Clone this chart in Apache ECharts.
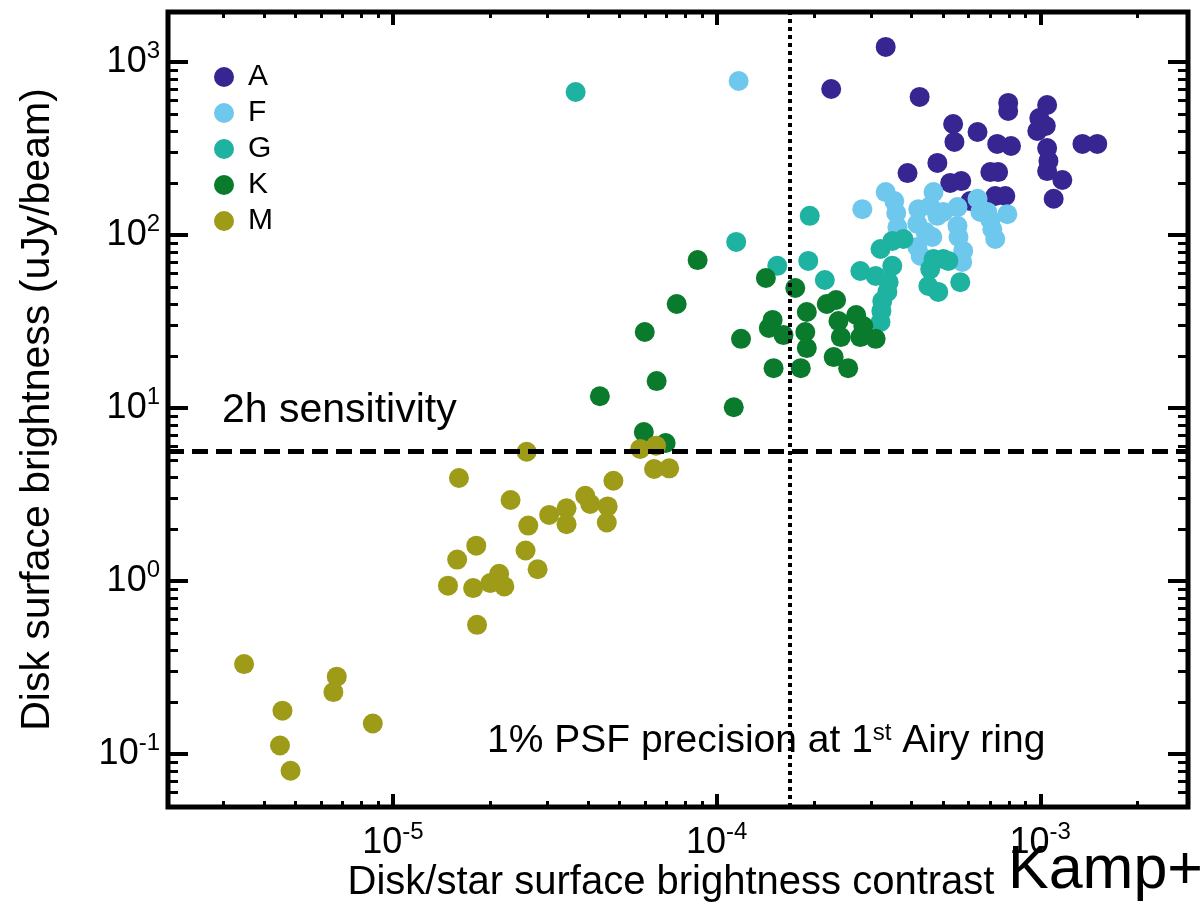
<!DOCTYPE html>
<html>
<head>
<meta charset="utf-8">
<title>Disk surface brightness vs contrast</title>
<script src="https://cdn.jsdelivr.net/npm/echarts@6/dist/echarts.min.js"></script>
<style>
  html, body { margin: 0; padding: 0; background: #fff; }
  #chart { width: 1203px; height: 915px; }
</style>
</head>
<body>
<div id="chart"></div>
<script>
// disk/star contrast (x) and disk surface brightness in uJy/beam (y), by stellar type
const aContrast = [3.33e-4, 2.26e-4, 4.24e-4, 7.96e-4, 7.96e-4, 1.05e-3, 9.93e-4, 1.04e-3, 9.79e-4, 5.38e-4, 5.43e-4, 6.40e-4, 7.36e-4, 8.12e-4, 1.05e-3, 1.06e-3, 1.05e-3, 1.17e-3, 1.35e-3, 1.50e-3, 4.81e-4, 3.89e-4, 5.27e-4, 5.70e-4, 7.01e-4, 7.41e-4, 7.26e-4, 7.80e-4, 6.08e-4, 1.10e-3]
const aBright = [1222, 698, 628, 580, 521, 564, 474, 427, 399, 438, 345, 394, 336, 327, 318, 268, 234, 208, 336, 336, 261, 228, 200, 205, 231, 231, 168, 168, 157, 162]

const fContrast = [1.17e-4, 2.82e-4, 3.33e-4, 3.54e-4, 3.59e-4, 3.62e-4, 4.20e-4, 4.17e-4, 4.42e-4, 4.68e-4, 4.57e-4, 4.81e-4, 5.02e-4, 4.17e-4, 4.27e-4, 5.55e-4, 5.55e-4, 5.59e-4, 5.78e-4, 5.74e-4, 6.40e-4, 6.53e-4, 6.86e-4, 7.01e-4, 7.91e-4, 7.11e-4, 7.26e-4, 4.64e-4]
const fBright = [776, 141, 177, 157, 134, 111, 141, 116, 104, 177, 147, 129, 136, 85.3, 75.7, 145, 113, 97.3, 80.9, 69.8, 162, 136, 136, 122, 132, 108, 94.8, 97.3]

const gContrast = [3.67e-5, 1.15e-4, 1.54e-4, 1.94e-4, 1.92e-4, 2.16e-4, 2.78e-4, 3.10e-4, 3.21e-4, 3.49e-4, 3.78e-4, 3.49e-4, 3.40e-4, 3.37e-4, 3.25e-4, 3.23e-4, 3.21e-4, 4.68e-4, 5.02e-4, 4.57e-4, 4.51e-4, 4.84e-4, 5.66e-4, 5.20e-4]
const gBright = [671, 91.2, 66.3, 129, 70.8, 54.9, 61.9, 57.9, 83.0, 92.3, 94.8, 66.3, 53.4, 46.9, 41.5, 36.4, 31.4, 72.6, 72.6, 63.5, 50.7, 46.9, 53.4, 70.8]

const kContrast = [4.36e-5, 8.74e-5, 7.53e-5, 6.00e-5, 6.53e-5, 5.96e-5, 6.96e-5, 1.13e-4, 1.19e-4, 1.42e-4, 1.49e-4, 1.45e-4, 1.61e-4, 1.50e-4, 1.75e-4, 1.90e-4, 1.88e-4, 1.90e-4, 1.82e-4, 2.19e-4, 2.34e-4, 2.38e-4, 2.42e-4, 2.30e-4, 2.55e-4, 2.70e-4, 2.84e-4, 2.78e-4, 3.10e-4]
const kBright = [11.7, 71.6, 39.9, 27.5, 14.3, 7.26, 6.28, 10.1, 25.1, 56.4, 32.3, 29.0, 26.4, 17.0, 49.4, 35.9, 27.5, 22.2, 17.0, 39.9, 42.1, 31.8, 25.7, 19.7, 17.0, 34.5, 29.8, 25.7, 25.1]

const mContrast = [3.47e-6, 4.56e-6, 4.48e-6, 4.83e-6, 6.71e-6, 6.55e-6, 8.67e-6, 1.60e-5, 2.59e-5, 2.31e-5, 1.81e-5, 1.58e-5, 1.48e-5, 1.77e-5, 1.82e-5, 2.00e-5, 2.13e-5, 2.21e-5, 2.57e-5, 2.80e-5, 2.62e-5, 3.04e-5, 3.44e-5, 3.44e-5, 3.93e-5, 4.07e-5, 4.61e-5, 4.58e-5, 4.80e-5, 5.81e-5, 6.50e-5, 6.41e-5, 7.14e-5]
const mBright = [0.331, 0.178, 0.112, 0.080, 0.280, 0.228, 0.150, 3.94, 5.59, 2.94, 1.60, 1.33, 0.94, 0.91, 0.558, 0.973, 1.10, 0.931, 1.50, 1.17, 2.09, 2.41, 2.63, 2.13, 3.11, 2.79, 2.70, 2.18, 3.80, 5.80, 6.06, 4.44, 4.48]

// reference lines
const psfContrast = 1.68e-4 // 1% PSF precision at 1st Airy ring
const sensitivity = 5.6 // 2h sensitivity, uJy/beam

// axis ranges and labelled decades (powers of ten)
const xMin = 2.02e-6
const xMax = 2.86e-3
const yMin = 0.0494
const yMax = 1945
const xDecades = [-5, -4, -3]
const yDecades = [-1, 0, 1, 2, 3]

const font = 'Liberation Sans, Arial, Helvetica, sans-serif'
const classes = [
  { name: 'A', color: '#372691', x: aContrast, y: aBright },
  { name: 'F', color: '#6ec8ee', x: fContrast, y: fBright },
  { name: 'G', color: '#1eb2a0', x: gContrast, y: gBright },
  { name: 'K', color: '#0a7a2d', x: kContrast, y: kBright },
  { name: 'M', color: '#9e9b19', x: mContrast, y: mBright }
]

const chart = echarts.init(document.getElementById('chart'), null, { renderer: 'canvas' })

const xLo = Math.log10(xMin)
const xHi = Math.log10(xMax)
const yLo = Math.log10(yMin)
const yHi = Math.log10(yMax)

// 2..9 x 10^n positions, in log space, inside the range
const minorTicks = (lo, hi) => {
  const out = []
  for (let p = Math.floor(lo); p <= Math.ceil(hi); p++) {
    for (let k = 2; k <= 9; k++) {
      const v = p + Math.log10(k)
      if (v > lo && v < hi) out.push(v)
    }
  }
  return out
}

const powerRich = {
  b: { fontSize: 36, lineHeight: 46, fontFamily: font, color: '#000' },
  s: { fontSize: 24, lineHeight: 24, fontFamily: font, color: '#000', verticalAlign: 'top' }
}
const powerLabel = (v) => `{b|10}{s|${Math.round(v)}}`

// value axes in log10 space only carry the ticks and labels
const tickAxis = (position, lo, hi, values, length, width) => ({
  type: 'value',
  position,
  min: lo,
  max: hi,
  silent: true,
  axisLine: { show: false, onZero: false },
  splitLine: { show: false },
  axisLabel: { show: false },
  axisTick: {
    show: true,
    inside: true,
    length,
    customValues: values,
    lineStyle: { color: '#000', width }
  }
})

const xMinor = minorTicks(xLo, xHi)
const yMinor = minorTicks(yLo, yHi)

const xLabelled = Object.assign(tickAxis('bottom', xLo, xHi, xDecades, 13, 4), {
  name: 'Disk/star surface brightness contrast',
  nameLocation: 'middle',
  nameGap: 56,
  nameMoveOverlap: false,
  nameTextStyle: { fontSize: 40, lineHeight: 40, fontFamily: font, color: '#000', padding: [0, 14, 0, 0] },
  axisLabel: { show: true, margin: 13, customValues: xDecades, formatter: powerLabel, rich: powerRich }
})
const yLabelled = Object.assign(tickAxis('left', yLo, yHi, yDecades, 20, 4), {
  name: 'Disk surface brightness (uJy/beam)',
  nameLocation: 'middle',
  nameGap: 110,
  nameMoveOverlap: false,
  nameTextStyle: { fontSize: 41, lineHeight: 40, fontFamily: font, color: '#000' },
  axisLabel: { show: true, margin: 8, customValues: yDecades, formatter: powerLabel, rich: powerRich }
})

const option = {
  animation: false,
  backgroundColor: '#fff',
  textStyle: { fontFamily: font },
  grid: {
    left: 168,
    top: 12,
    right: 15,
    bottom: 108,
    show: true,
    borderColor: '#000',
    borderWidth: 5,
    backgroundColor: 'transparent',
    outerBoundsMode: 'none',
    containLabel: false
  },
  legend: {
    data: classes.map((c) => c.name),
    orient: 'vertical',
    left: 209,
    top: 57,
    icon: 'circle',
    itemWidth: 38,
    itemHeight: 20,
    itemGap: 6,
    selectedMode: false,
    textStyle: { fontSize: 30, lineHeight: 30, fontFamily: font, color: '#000' }
  },
  xAxis: [
    { type: 'log', logBase: 10, min: xMin, max: xMax, show: false },
    xLabelled,
    tickAxis('bottom', xLo, xHi, xMinor, 6, 3),
    tickAxis('top', xLo, xHi, xDecades, 13, 4),
    tickAxis('top', xLo, xHi, xMinor, 6, 3)
  ],
  yAxis: [
    { type: 'log', logBase: 10, min: yMin, max: yMax, show: false },
    yLabelled,
    tickAxis('left', yLo, yHi, yMinor, 10, 3),
    tickAxis('right', yLo, yHi, yDecades, 20, 4),
    tickAxis('right', yLo, yHi, yMinor, 10, 3)
  ],
  graphic: [
    {
      type: 'text',
      x: 222,
      y: 411,
      silent: true,
      style: { text: '2h sensitivity', fontSize: 41, fontFamily: font, fill: '#000', verticalAlign: 'middle' }
    },
    {
      type: 'text',
      x: 487,
      y: 741,
      silent: true,
      style: {
        text: '{a|1% PSF precision at 1}{s|st}{a| Airy ring}',
        verticalAlign: 'middle',
        rich: {
          a: { fontSize: 39, lineHeight: 40, fontFamily: font, fill: '#000' },
          s: { fontSize: 24, lineHeight: 24, fontFamily: font, fill: '#000', verticalAlign: 'top' }
        }
      }
    },
    {
      type: 'text',
      x: 1008,
      y: 871,
      silent: true,
      style: { text: 'Kamp+2020', fontSize: 61, fontFamily: font, fill: '#000', verticalAlign: 'middle' }
    }
  ],
  series: classes.map((c, idx) => {
    const s = {
      type: 'scatter',
      name: c.name,
      xAxisIndex: 0,
      yAxisIndex: 0,
      symbol: 'circle',
      symbolSize: 20,
      itemStyle: { color: c.color, opacity: 1 },
      emphasis: { disabled: true },
      data: c.x.map((v, i) => [v, c.y[i]])
    }
    if (idx === classes.length - 1) {
      s.markLine = {
        silent: true,
        symbol: ['none', 'none'],
        label: { show: false },
        emphasis: { disabled: true },
        data: [
          [
            { coord: [psfContrast, yMin], lineStyle: { color: '#000', width: 4, type: [4, 4] } },
            { coord: [psfContrast, yMax] }
          ],
          [
            { coord: [xMin, sensitivity], lineStyle: { color: '#000', width: 5, type: [16, 8] } },
            { coord: [xMax, sensitivity] }
          ]
        ]
      }
    }
    return s
  })
}

chart.setOption(option)
window.addEventListener('resize', () => {
  chart.resize()
})
</script>
</body>
</html>
